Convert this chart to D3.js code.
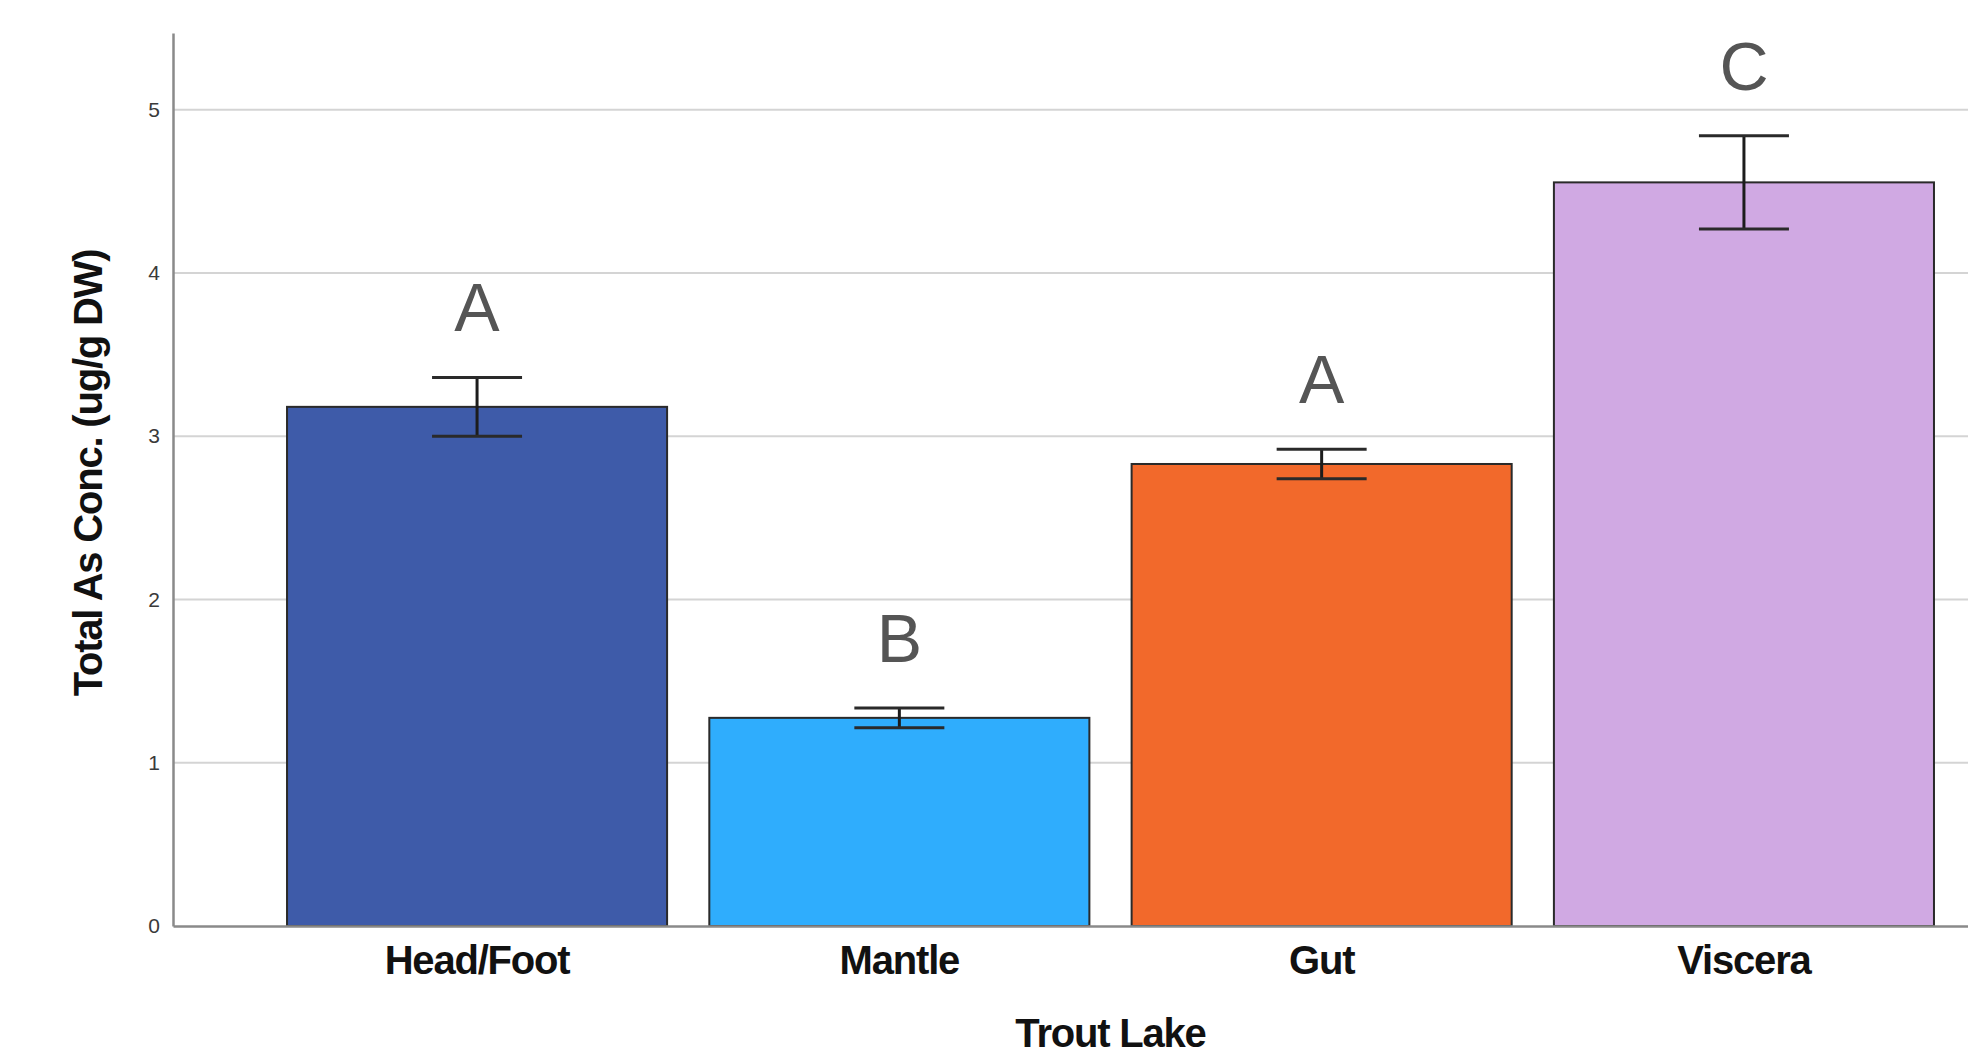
<!DOCTYPE html>
<html>
<head>
<meta charset="utf-8">
<script src="https://cdn.jsdelivr.net/npm/d3@7"></script>
<style>
  body { margin: 0; background: #fff; }
  text { font-family: "Liberation Sans", Arial, sans-serif; }
</style>
</head>
<body>
<div id="chart"></div>
<script>
var tissues = ["Head/Foot", "Mantle", "Gut", "Viscera"];
var means = [3.18, 1.275, 2.83, 4.555];
var errors = [0.18, 0.06, 0.09, 0.285];
var groups = ["A", "B", "A", "C"];
var colors = ["#3e5ba9", "#2fadfd", "#f2692b", "#d0a9e3"];
var yTicks = [0, 1, 2, 3, 4, 5];

var width = 1968, height = 1057;
var plotLeft = 173, plotRight = 2048, plotTop = 33, plotBottom = 926;

var svg = d3.select("#chart")
  .append("svg")
  .attr("width", width)
  .attr("height", height);

var x = d3.scaleBand()
  .domain(tissues)
  .range([plotLeft, plotRight])
  .paddingInner(0.1)
  .paddingOuter(0.27);

var y = d3.scaleLinear()
  .domain([0, 5.47])
  .range([plotBottom, plotTop]);

// gridlines
svg.append("g")
  .selectAll("line")
  .data(yTicks.filter(function(d){ return d > 0; }))
  .enter()
  .append("line")
  .attr("x1", plotLeft)
  .attr("x2", width)
  .attr("y1", function(d){ return y(d); })
  .attr("y2", function(d){ return y(d); })
  .style("stroke", "#d4d4d4")
  .style("stroke-width", "2px");

// y axis
var yAxis = svg.append("g")
  .attr("transform", "translate(" + plotLeft + ",0)")
  .call(d3.axisLeft(y).tickValues(yTicks).tickSize(0).tickPadding(13).tickFormat(d3.format("d")));
yAxis.select(".domain").style("stroke", "#8a8a8a").style("stroke-width", "2.5px");
yAxis.selectAll("text")
  .style("font-size", "21px")
  .style("fill", "#3a3a3a");

// bars
var bar = svg.append("g")
  .selectAll("g")
  .data(tissues)
  .enter()
  .append("g");

bar.append("rect")
  .attr("x", function(d){ return x(d); })
  .attr("y", function(d, i){ return y(means[i]); })
  .attr("width", x.bandwidth())
  .attr("height", function(d, i){ return y(0) - y(means[i]); })
  .attr("fill", function(d, i){ return colors[i]; })
  .style("stroke", "#2a2a2a")
  .style("stroke-width", "2px");

// x axis
var xAxis = svg.append("g")
  .attr("transform", "translate(0," + plotBottom + ")")
  .call(d3.axisBottom(x).tickSize(0).tickPadding(20));
xAxis.select(".domain").style("stroke", "#8a8a8a").style("stroke-width", "2.5px");
xAxis.selectAll("text")
  .style("font-size", "40px")
  .style("font-weight", "bold")
  .style("letter-spacing", "-1.2px")
  .style("fill", "#111");

// error bars
var capW = 90;
bar.append("line")
  .attr("x1", function(d){ return x(d) + x.bandwidth() / 2; })
  .attr("x2", function(d){ return x(d) + x.bandwidth() / 2; })
  .attr("y1", function(d, i){ return y(means[i] + errors[i]); })
  .attr("y2", function(d, i){ return y(means[i] - errors[i]); })
  .style("stroke", "#1c1c1c")
  .style("stroke-width", "3px");
bar.selectAll(".cap")
  .data(function(d, i){ return [{t: d, v: means[i] + errors[i]}, {t: d, v: means[i] - errors[i]}]; })
  .enter()
  .append("line")
  .attr("class", "cap")
  .attr("x1", function(d){ return x(d.t) + x.bandwidth() / 2 - capW / 2; })
  .attr("x2", function(d){ return x(d.t) + x.bandwidth() / 2 + capW / 2; })
  .attr("y1", function(d){ return y(d.v); })
  .attr("y2", function(d){ return y(d.v); })
  .style("stroke", "#2a2a2a")
  .style("stroke-width", "3px");

// significance letters
bar.append("text")
  .attr("x", function(d){ return x(d) + x.bandwidth() / 2; })
  .attr("y", function(d, i){ return y(means[i] + errors[i]) - 46; })
  .style("text-anchor", "middle")
  .style("font-size", "68px")
  .style("fill", "#555")
  .text(function(d, i){ return groups[i]; });

// axis titles
svg.append("text")
  .attr("x", (plotLeft + plotRight) / 2)
  .attr("y", 1047)
  .style("text-anchor", "middle")
  .style("font-size", "40px")
  .style("font-weight", "bold")
  .style("letter-spacing", "-1.2px")
  .style("fill", "#111")
  .text("Trout Lake");

svg.append("text")
  .attr("transform", "translate(102,473) rotate(-90)")
  .style("text-anchor", "middle")
  .style("font-size", "40px")
  .style("font-weight", "bold")
  .style("letter-spacing", "-1.2px")
  .style("fill", "#111")
  .text("Total As Conc. (ug/g DW)");
</script>
</body>
</html>
